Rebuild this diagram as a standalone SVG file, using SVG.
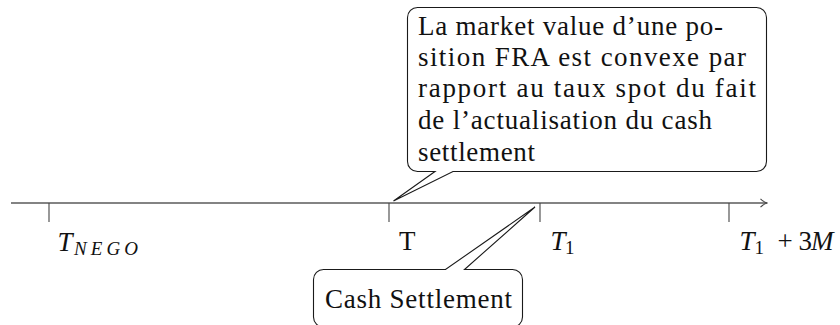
<svg xmlns="http://www.w3.org/2000/svg" width="840" height="325" viewBox="0 0 840 325">
  <style>
    .axis { stroke: #5a5a5a; stroke-width: 1.3; fill: none; }
    .tick { stroke: #444; stroke-width: 1.1; fill: none; }
    .bubble { fill: #fff; stroke: #1a1a1a; stroke-width: 1.1; stroke-linejoin: miter; }
    text { font-family: 'Liberation Serif', 'DejaVu Serif', serif; font-size: 27px; fill: #111; }
    .it { font-style: italic; }
    .sub { font-size: 19px; }
  </style>
  <defs>
    <marker id="to" viewBox="0 0 8 10" refX="7.5" refY="5" markerWidth="8" markerHeight="10" markerUnits="userSpaceOnUse" orient="auto">
      <path d="M1 0.8 Q4.5 4.2 7.5 5 Q4.5 5.8 1 9.2" fill="none" stroke="#444" stroke-width="1.1"/>
    </marker>
  </defs>

  <!-- time axis with tick marks -->
  <g id="connectors">
    <line class="axis" x1="11" y1="203" x2="767" y2="203" marker-end="url(#to)"/>
    <line class="tick" x1="49" y1="203" x2="49" y2="222"/>
    <line class="tick" x1="389" y1="203" x2="389" y2="222"/>
    <line class="tick" x1="540" y1="203" x2="540" y2="222"/>
    <line class="tick" x1="729" y1="203" x2="729" y2="222"/>
  </g>

  <!-- tick labels -->
  <g id="label-tnego">
    <text class="it" x="57.5" y="251">T</text>
    <text class="it sub" x="74" y="254.5" textLength="64" lengthAdjust="spacing">NEGO</text>
  </g>
  <g id="label-t">
    <text x="399" y="250">T</text>
  </g>
  <g id="label-t1">
    <text class="it" x="550.5" y="250">T</text>
    <text class="sub" x="565" y="254">1</text>
  </g>
  <g id="label-t1-3m">
    <text class="it" x="739.5" y="250">T</text>
    <text class="sub" x="754.5" y="254">1</text>
    <text x="785" y="250" text-anchor="middle">+</text>
    <text x="798.5" y="250">3</text>
    <text class="it" x="811" y="250">M</text>
  </g>

  <!-- upper callout pointing at T -->
  <g id="callout-convexity">
    <path class="bubble" d="M417.5 7.5 H756.5 A10 10 0 0 1 766.5 17.5 V161.5 A10 10 0 0 1 756.5 171.5 H453 L393.5 201 L435 171.5 H417.5 A10 10 0 0 1 407.5 161.5 V17.5 A10 10 0 0 1 417.5 7.5 Z"/>
    <text x="418" y="34.5" textLength="305" lengthAdjust="spacing">La market value d’une po-</text>
    <text x="418" y="65.5" textLength="328" lengthAdjust="spacing">sition FRA est convexe par</text>
    <text x="418" y="96.5" textLength="338" lengthAdjust="spacing">rapport au taux spot du fait</text>
    <text x="418" y="129" textLength="294" lengthAdjust="spacing">de l’actualisation du cash</text>
    <text x="418" y="161" textLength="117" lengthAdjust="spacing">settlement</text>
  </g>

  <!-- lower callout pointing just before T1 -->
  <g id="callout-settlement">
    <path class="bubble" d="M323.5 269.5 H445.5 L535 207 L464.5 269.5 H512.5 A10 10 0 0 1 522.5 279.5 V317 A10 10 0 0 1 512.5 327 H323.5 A10 10 0 0 1 313.5 317 V279.5 A10 10 0 0 1 323.5 269.5 Z"/>
    <text x="325" y="307.5" textLength="187" lengthAdjust="spacing">Cash Settlement</text>
  </g>
</svg>
